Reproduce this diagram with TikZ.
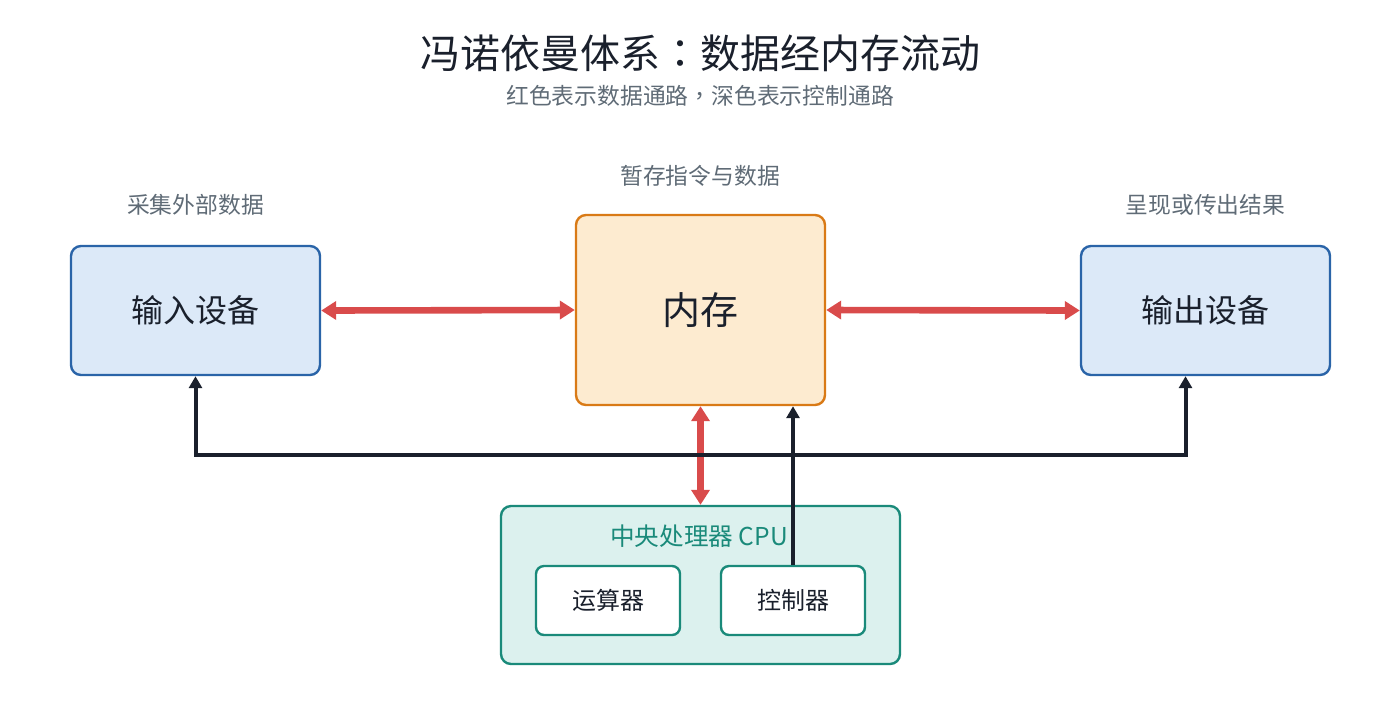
\documentclass[tikz,border=0pt]{standalone}
\usepackage{fontspec}
\setmainfont{Noto Sans CJK SC}
\newfontfamily\vnpunct{Noto Sans CJK TC}
\usetikzlibrary{arrows.meta,positioning}
\definecolor{VnInk}{RGB}{26,32,44}
\definecolor{VnGray}{RGB}{95,107,118}
\definecolor{VnRed}{RGB}{217,75,75}
\definecolor{VnBlue}{RGB}{42,100,168}
\definecolor{VnBlueFill}{RGB}{220,233,248}
\definecolor{VnOrange}{RGB}{217,122,22}
\definecolor{VnOrangeFill}{RGB}{253,235,208}
\definecolor{VnTeal}{RGB}{26,138,122}
\definecolor{VnTealFill}{RGB}{220,241,238}
\tikzset{
  vn/io/.style={
    draw=VnBlue,
    line width=1.2pt,
    rounded corners=5pt,
    fill=VnBlueFill,
    align=center,
    text=VnInk,
    minimum width=124.5pt,
    minimum height=64.5pt,
    font=\fontsize{16}{19}\selectfont
  },
  vn/mem/.style={
    draw=VnOrange,
    line width=1.2pt,
    rounded corners=5pt,
    fill=VnOrangeFill,
    align=center,
    text=VnInk,
    minimum width=124.5pt,
    minimum height=95pt,
    font=\fontsize{19}{23}\selectfont
  },
  vn/cpu/.style={
    draw=VnTeal,
    line width=1.2pt,
    rounded corners=5pt,
    fill=VnTealFill,
    minimum width=199.5pt,
    minimum height=79pt
  },
  vn/unit/.style={
    draw=VnTeal,
    line width=1.2pt,
    rounded corners=4pt,
    fill=white,
    align=center,
    text=VnInk,
    minimum width=72pt,
    minimum height=34.5pt,
    font=\fontsize{12}{14}\selectfont
  },
  vn/data/.style={{Triangle[length=7.5pt,width=9pt]}-{Triangle[length=7.5pt,width=9pt]}, line width=3.3pt, draw=VnRed},
  vn/ctrl/.style={-{Triangle[length=6pt,width=6.5pt]}, line width=2pt, draw=VnInk},
  vn/title/.style={font=\fontsize{20}{24}\selectfont, text=VnInk},
  vn/subtitle/.style={font=\fontsize{11.4}{14}\selectfont, text=VnGray},
  vn/tag/.style={font=\fontsize{11.4}{14}\selectfont, text=VnGray}
}

\begin{document}
\begin{tikzpicture}[x=0.5pt,y=-0.5pt]
  \useasboundingbox (0,0) rectangle (1400,720);

  \node[vn/title] (title) at (700,53) {冯诺依曼体系{\vnpunct ：}数据经内存流动};
  \node[vn/subtitle] (subtitle) at (700,96) {红色表示数据通路{\vnpunct ，}深色表示控制通路};

  \node[vn/io] (in) at (195.5,310.5) {输入设备};
  \node[vn/mem] (mem) at (700.5,310) {内存};
  \node[vn/io] (out) at (1205.5,310.5) {输出设备};
  \node[vn/tag] (inTag) at (195.5,205) {采集外部数据};
  \node[vn/tag] (memTag) at (700,176) {暂存指令与数据};
  \node[vn/tag] (outTag) at (1205.5,205) {呈现或传出结果};

  \node[vn/cpu] (cpu) at (700.5,585) {};
  \node[font=\fontsize{12.3}{14}\selectfont, text=VnTeal] (cpuTag) at (699,536) {中央处理器 CPU};
  \node[vn/unit] (alu) at (608,600.5) {运算器};
  \node[vn/unit] (ctrl) at (793,600.5) {控制器};

  % data paths
  \draw[vn/data] (in.east) -- (mem.west);
  \draw[vn/data] (mem.east) -- (out.west);
  \draw[vn/data] (mem.south) -- (cpu.north);

  % control paths
  \coordinate (bus) at (793,455);
  \draw[vn/ctrl] (ctrl.north) -- (ctrl.north |- mem.south);
  \draw[vn/ctrl] (bus) -| (in.south);
  \draw[vn/ctrl] (bus) -| ([xshift=-10pt]out.south);
\end{tikzpicture}
\end{document}
